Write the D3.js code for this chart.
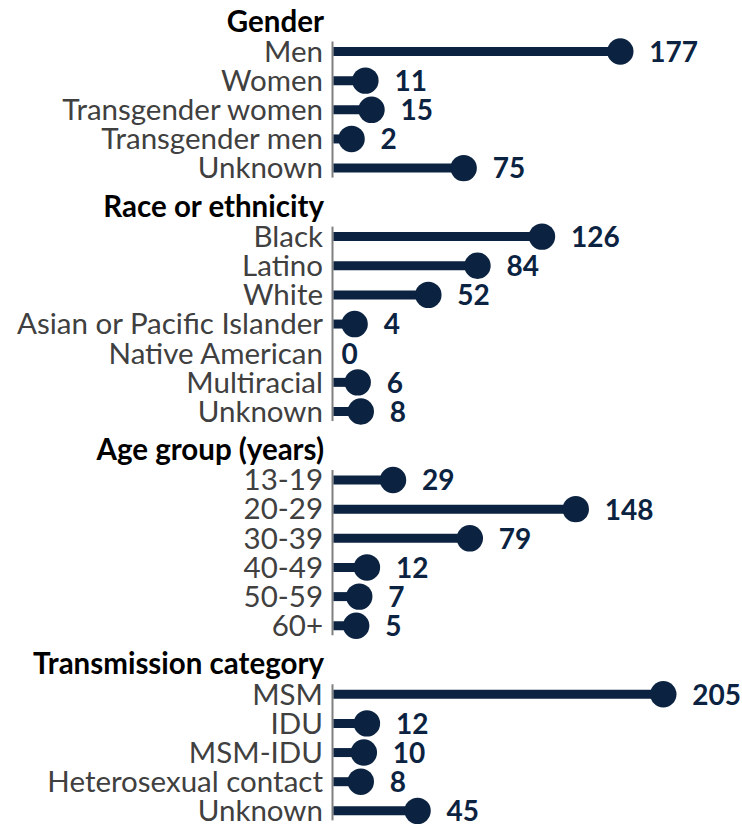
<!DOCTYPE html>
<html>
<head>
<meta charset="utf-8">
<script src="https://cdn.jsdelivr.net/npm/d3@7"></script>
<style>
  html, body { margin: 0; padding: 0; background: #ffffff; }
  svg { display: block; }
</style>
</head>
<body>
<svg id="chart" width="742" height="825"></svg>
<script>
// Group headings and their categories / counts
const groupTitles = ["Gender", "Race or ethnicity", "Age group (years)", "Transmission category"];

const genderLabels = ["Men", "Women", "Transgender women", "Transgender men", "Unknown"];
const genderValues = [177, 11, 15, 2, 75];

const raceLabels = ["Black", "Latino", "White", "Asian or Pacific Islander", "Native American", "Multiracial", "Unknown"];
const raceValues = [126, 84, 52, 4, 0, 6, 8];

const ageLabels = ["13-19", "20-29", "30-39", "40-49", "50-59", "60+"];
const ageValues = [29, 148, 79, 12, 7, 5];

const transmissionLabels = ["MSM", "IDU", "MSM-IDU", "Heterosexual contact", "Unknown"];
const transmissionValues = [205, 12, 10, 8, 45];

const groupLabels = [genderLabels, raceLabels, ageLabels, transmissionLabels];
const groupValues = [genderValues, raceValues, ageValues, transmissionValues];

// Flatten into rows, keeping track of the group and the running slot position
const headerSlots = 1.35;   // extra vertical space taken by each group heading
let slot = 0;
const rows = [];
const groups = [];
groupLabels.forEach((labels, g) => {
  if (g > 0) slot += headerSlots;
  const first = slot;
  labels.forEach((label, i) => {
    rows.push({ group: g, label, value: groupValues[g][i], slot });
    slot += 1;
  });
  groups.push({ title: groupTitles[g], first, last: slot - 1 });
});

const svg = d3.select("#chart");

const navy = "#0b2341";
const axisX = 332.5;
const labelRight = 323;
const rowStep = 29.15;
const firstRowY = 51.5;

const y = d3.scaleLinear()
  .domain([0, 1])
  .range([firstRowY, firstRowY + rowStep]);

const maxVal = d3.max(rows, d => d.value);
const x = d3.scaleLinear()
  .domain([0, maxVal])
  .range([axisX + 16, 663.3]);

const fontFamily = "Lato, 'Open Sans', 'DejaVu Sans', sans-serif";
const labelSize = 29.5;
const titleSize = 29.5;
const valueSize = 28;

// Group headings
svg.selectAll("text.group-title")
  .data(groups)
  .join("text")
  .attr("class", "group-title")
  .attr("x", labelRight + 1)
  .attr("y", d => y(d.first) - 20)
  .attr("text-anchor", "end")
  .attr("font-family", fontFamily)
  .attr("font-weight", 700)
  .attr("font-size", titleSize)
  .attr("fill", "#000000")
  .text(d => d.title);

// Category axis segment for each group
svg.selectAll("line.cat-axis")
  .data(groups)
  .join("line")
  .attr("class", "cat-axis")
  .attr("x1", axisX).attr("x2", axisX)
  .attr("y1", d => y(d.first) - 10)
  .attr("y2", d => y(d.last) + 9.5)
  .attr("stroke", "#7f7f7f")
  .attr("stroke-width", 2);

// Category labels
svg.selectAll("text.cat-label")
  .data(rows)
  .join("text")
  .attr("class", "cat-label")
  .attr("x", labelRight)
  .attr("y", d => y(d.slot))
  .attr("dy", "0.35em")
  .attr("text-anchor", "end")
  .attr("font-family", fontFamily)
  .attr("font-size", labelSize)
  .attr("fill", "#404040")
  .text(d => d.label);

const nonZero = rows.filter(d => d.value > 0);

// Stems
svg.selectAll("line.stem")
  .data(nonZero)
  .join("line")
  .attr("class", "stem")
  .attr("x1", axisX + 1)
  .attr("x2", d => x(d.value))
  .attr("y1", d => y(d.slot))
  .attr("y2", d => y(d.slot))
  .attr("stroke", navy)
  .attr("stroke-width", 9);

// Dots
svg.selectAll("circle.dot")
  .data(nonZero)
  .join("circle")
  .attr("class", "dot")
  .attr("cx", d => x(d.value))
  .attr("cy", d => y(d.slot))
  .attr("r", 13.2)
  .attr("fill", navy);

// Value labels
svg.selectAll("text.value")
  .data(rows)
  .join("text")
  .attr("class", "value")
  .attr("x", d => d.value > 0 ? x(d.value) + 29 : axisX + 9)
  .attr("y", d => y(d.slot))
  .attr("dy", "0.37em")
  .attr("font-family", fontFamily)
  .attr("font-weight", 700)
  .attr("font-size", valueSize)
  .attr("fill", navy)
  .text(d => d.value);
</script>
</body>
</html>
